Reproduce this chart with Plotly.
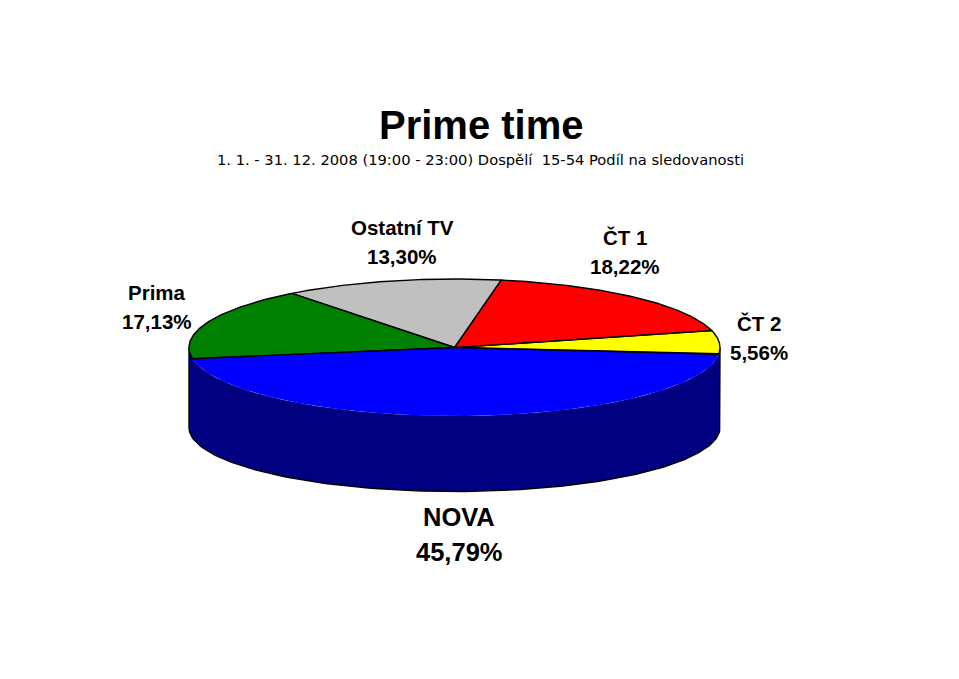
import numpy as np
import plotly.graph_objects as go

# podíl na sledovanosti, pořadí proti směru hodin od pravého okraje
labels = ["ČT 2", "ČT 1", "Ostatní TV", "Prima", "NOVA"]
values = [5.56, 18.22, 13.30, 17.13, 45.79]

title = "Prime time"
subtitle = "1. 1. - 31. 12. 2008 (19:00 - 23:00) Dospělí  15-54 Podíl na sledovanosti"

top_colors = ["#FFFF00", "#FF0000", "#C0C0C0", "#008000", "#0000FF"]
wall_color = "#000080"

# geometrie kolace (pixely obrazku)
W, H = 959, 679
cx, cy = 454.5, 347.5
rx, ry = 265.5, 68.5
ry_bottom = 64
depth = 80
start_angle = -5.7
edge = dict(color="#000000", width=1.4)

# stredy popisku: jmeno, hodnota
label_pos = {
    "ČT 2": (759, 323, 352),
    "ČT 1": (625, 237, 266),
    "Ostatní TV": (402, 227, 256),
    "Prima": (157, 292, 321),
    "NOVA": (459, 517, 552),
}


def arc(a0, a1, dy=0.0, r_y=ry):
    t = np.radians(np.linspace(a0, a1, 120))
    return cx + rx * np.cos(t), cy - r_y * np.sin(t) + dy


fig = go.Figure()

# bocni stena, obrys jen po stranach a dole
xa, ya = arc(180, 360)
xb, yb = arc(360, 180, depth, ry_bottom)
fig.add_trace(go.Scatter(
    x=np.r_[xa, xb, xa[0]], y=np.r_[ya, yb, ya[0]],
    mode="lines", fill="toself", fillcolor=wall_color,
    line=dict(width=0), hoverinfo="skip",
))
fig.add_trace(go.Scatter(
    x=np.r_[xa[-1], xb, xa[0]], y=np.r_[ya[-1], yb, ya[0]],
    mode="lines", line=edge, hoverinfo="skip",
))

# horni plocha - vysece
angle = start_angle
total = sum(values)
for name, val, col in zip(labels, values, top_colors):
    sweep = val / total * 360
    xs, ys = arc(angle, angle + sweep)
    if name == "NOVA":
        # NOVA nema cernou hranu proti stene, jen paprsky ke stredu
        fig.add_trace(go.Scatter(
            x=np.r_[cx, xs, cx], y=np.r_[cy, ys, cy],
            mode="lines", fill="toself", fillcolor=col,
            line=dict(width=0), name=name, hoverinfo="skip",
        ))
        fig.add_trace(go.Scatter(
            x=[xs[0], cx, xs[-1]], y=[ys[0], cy, ys[-1]],
            mode="lines", line=edge, hoverinfo="skip",
        ))
    else:
        fig.add_trace(go.Scatter(
            x=np.r_[cx, xs, cx], y=np.r_[cy, ys, cy],
            mode="lines", fill="toself", fillcolor=col,
            line=edge, name=name, hoverinfo="skip",
        ))
    angle += sweep

# popisky
font_name = "Liberation Sans"
for name, val in zip(labels, values):
    x, y1, y2 = label_pos[name]
    size = 25.5 if name == "NOVA" else 20.5
    fig.add_annotation(x=x, y=y1, text=f"<b>{name}</b>", showarrow=False,
                       font=dict(family=font_name, size=size, color="#000000"))
    fig.add_annotation(x=x, y=y2, text="<b>" + f"{val:.2f}".replace(".", ",") + "%</b>",
                       showarrow=False,
                       font=dict(family=font_name, size=size, color="#000000"))

fig.add_annotation(x=481, y=125, text=f"<b>{title}</b>", showarrow=False,
                   font=dict(family=font_name, size=40, color="#000000"))
fig.add_annotation(x=480, y=159, text=subtitle, showarrow=False,
                   font=dict(family="DejaVu Sans", size=14.7, color="#000000"))

fig.update_layout(
    width=W, height=H,
    margin=dict(l=0, r=0, t=0, b=0),
    paper_bgcolor="#FFFFFF", plot_bgcolor="#FFFFFF",
    showlegend=False,
    xaxis=dict(range=[0, W], visible=False, fixedrange=True),
    yaxis=dict(range=[H, 0], visible=False, fixedrange=True),
)

fig.write_html("out.html", config={"displayModeBar": False},
               post_script="document.body.style.margin='0';")
